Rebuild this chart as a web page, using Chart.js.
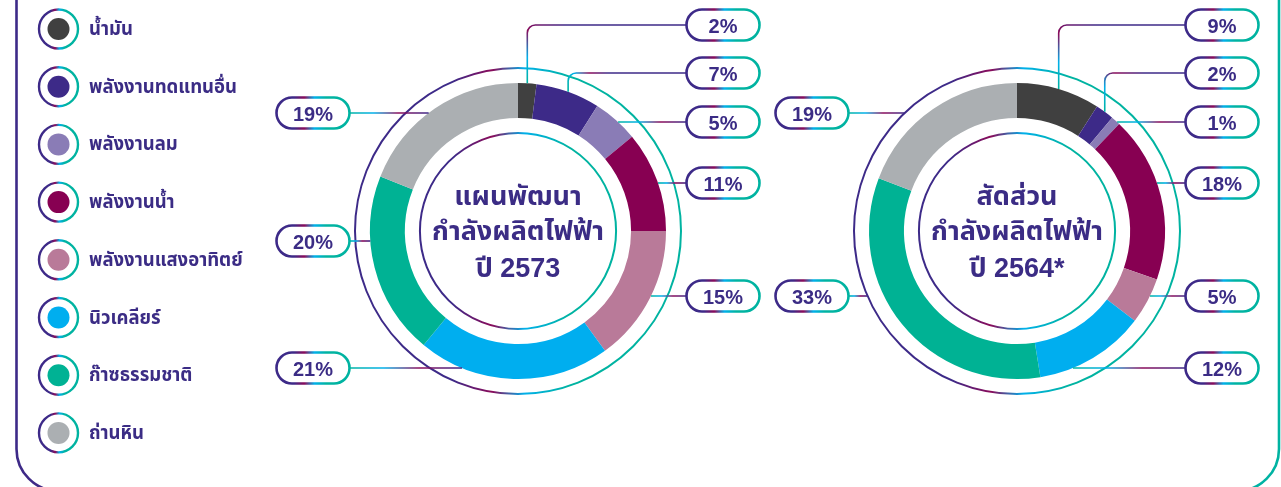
<!DOCTYPE html>
<html>
<head>
<meta charset="utf-8">
<script src="https://cdn.jsdelivr.net/npm/chart.js@4.4.1/dist/chart.umd.min.js"></script>
<style>
  html, body { margin: 0; padding: 0; background: #fff; overflow: hidden; }
  #wrap { position: relative; width: 1281px; height: 487px; }
  #wrap canvas { position: absolute; left: 0; top: 0; }
</style>
</head>
<body>
<div id="wrap">
  <canvas id="plan" width="1281" height="487"></canvas>
  <canvas id="share" width="1281" height="487"></canvas>
</div>
<script>
// Generation sources, in drawing order (clockwise from 12 o'clock)
const sources = ['น้ำมัน', 'พลังงานทดแทนอื่น', 'พลังงานลม', 'พลังงานน้ำ', 'พลังงานแสงอาทิตย์', 'นิวเคลียร์', 'ก๊าซธรรมชาติ', 'ถ่านหิน'];
const sourceColors = ['#404040', '#3d2a88', '#8a7cb6', '#870052', '#b97a99', '#00aeef', '#00b294', '#abafb2'];

// Capacity shares, percent
const plan2573 = [2, 7, 5, 11, 15, 21, 20, 19];
const share2564 = [9, 2, 1, 18, 5, 12, 33, 19];

// Centre captions
const planTitle = ['แผนพัฒนา', 'กำลังผลิตไฟฟ้า', 'ปี 2573'];
const shareTitle = ['สัดส่วน', 'กำลังผลิตไฟฟ้า', 'ปี 2564*'];

const FONT = '"Liberation Sans", "Noto Sans Thai", "Noto Sans Thai UI", "Noto Sans", sans-serif';
const INK = '#3b2c85';
const PURPLE = '#3d2a88', MAGENTA = '#8a0b5a', BLUE = '#00b0ea', TEAL = '#00b3a1';
const RING_STOPS = [[0, PURPLE], [0.3, PURPLE], [0.42, MAGENTA], [0.52, BLUE], [0.66, TEAL], [1, TEAL]];
const PILL_STOPS = [[0, PURPLE], [0.24, PURPLE], [0.38, MAGENTA], [0.52, BLUE], [0.68, TEAL], [1, TEAL]];
const LEADER_STOPS = [[0, TEAL], [0.3, BLUE], [0.62, MAGENTA], [1, PURPLE]];

function gradient(ctx, x0, y0, x1, y1, stops) {
  const g = ctx.createLinearGradient(x0, y0, x1, y1);
  stops.forEach(([o, c]) => g.addColorStop(o, c));
  return g;
}

// Outline rings, leader lines, value pills and the centre caption
const calloutPlugin = {
  id: 'callouts',
  afterDatasetsDraw(chart, args, opts) {
    const ctx = chart.ctx;
    const arcs = chart.getDatasetMeta(0).data;
    const { x: cx, y: cy, outerRadius: R, innerRadius: r } = arcs[0];
    const values = chart.data.datasets[0].data;
    ctx.save();

    // thin rings around and inside the donut
    ctx.lineWidth = 2;
    ctx.strokeStyle = gradient(ctx, cx - R - 15, 0, cx + R + 15, 0, RING_STOPS);
    [R + 15, r - 15].forEach(rad => {
      ctx.beginPath();
      ctx.arc(cx, cy, rad, 0, Math.PI * 2);
      ctx.stroke();
    });

    opts.items.forEach(it => {
      const arc = arcs[it.index];
      const py = it.y;
      const right = it.side === 'right';
      const pillX = right ? cx + opts.gap : cx - opts.gap - opts.pillW;
      const pillEdge = right ? pillX : pillX + opts.pillW;

      ctx.lineWidth = 1.6;
      ctx.beginPath();
      if (it.elbow) {
        const mid = (arc.startAngle + arc.endAngle) / 2;
        const ax = cx + R * Math.cos(mid), ay = cy + R * Math.sin(mid);
        const k = 8;
        ctx.strokeStyle = gradient(ctx, ax, ay, ax + 40, py, LEADER_STOPS);
        ctx.moveTo(ax, ay);
        ctx.lineTo(ax, py + k);
        ctx.arcTo(ax, py, ax + k, py, k);
        ctx.lineTo(pillEdge, py);
      } else {
        const reach = it.toRing ? R + 15 : R;
        const dy = py - cy;
        const dx = Math.sqrt(Math.max(reach * reach - dy * dy, 0));
        const ex = right ? cx + dx : cx - dx;
        ctx.strokeStyle = gradient(ctx, Math.min(ex, pillEdge), 0, Math.max(ex, pillEdge), 0, LEADER_STOPS);
        ctx.moveTo(ex, py);
        ctx.lineTo(pillEdge, py);
      }
      ctx.stroke();

      // value pill
      const h = opts.pillH;
      ctx.beginPath();
      ctx.roundRect(pillX, py - h / 2, opts.pillW, h, h / 2);
      ctx.fillStyle = '#fff';
      ctx.fill();
      ctx.lineWidth = 2.6;
      ctx.strokeStyle = gradient(ctx, pillX, 0, pillX + opts.pillW, 0, PILL_STOPS);
      ctx.stroke();
      ctx.fillStyle = INK;
      ctx.font = 'bold 20px ' + FONT;
      ctx.textAlign = 'center';
      ctx.textBaseline = 'alphabetic';
      ctx.fillText(values[it.index] + '%', pillX + opts.pillW / 2, py + 7.5);
    });

    // centre caption
    ctx.fillStyle = INK;
    ctx.font = 'bold 27px ' + FONT;
    ctx.textAlign = 'center';
    ctx.textBaseline = 'alphabetic';
    const offs = [-26, 9, 46];
    opts.title.forEach((line, i) => ctx.fillText(line, cx, cy + offs[i]));
    ctx.restore();
  }
};

// Rounded frame and the colour key on the left
const keyPlugin = {
  id: 'sourceKey',
  beforeDraw(chart) {
    const ctx = chart.ctx;
    ctx.save();
    ctx.lineWidth = 2.6;
    ctx.strokeStyle = gradient(ctx, 16, 0, 1280, 0, [[0, PURPLE], [0.4, MAGENTA], [0.6, BLUE], [1, TEAL]]);
    ctx.beginPath();
    ctx.roundRect(16.5, -60, 1262.5, 551, 42);
    ctx.stroke();
    ctx.restore();
  },
  afterDraw(chart, args, opts) {
    const ctx = chart.ctx;
    const colors = chart.data.datasets[0].backgroundColor;
    ctx.save();
    chart.data.labels.forEach((label, i) => {
      const x = opts.x, y = opts.top + i * opts.step;
      ctx.lineWidth = 2.4;
      ctx.strokeStyle = gradient(ctx, x - 20, 0, x + 20, 0, RING_STOPS);
      ctx.beginPath();
      ctx.arc(x, y, 19.5, 0, Math.PI * 2);
      ctx.stroke();
      ctx.fillStyle = colors[i];
      ctx.beginPath();
      ctx.arc(x, y, 11, 0, Math.PI * 2);
      ctx.fill();
      ctx.fillStyle = INK;
      ctx.font = 'bold 18.5px ' + FONT;
      ctx.textAlign = 'left';
      ctx.textBaseline = 'alphabetic';
      ctx.fillText(label, opts.textX, y + 6);
    });
    ctx.restore();
  }
};

function donut(id, values, padding, extra, plugins) {
  return new Chart(document.getElementById(id), {
    type: 'doughnut',
    data: {
      labels: sources,
      datasets: [{ data: values, backgroundColor: sourceColors, borderWidth: 0, hoverOffset: 0 }]
    },
    options: {
      responsive: false,
      maintainAspectRatio: false,
      devicePixelRatio: 1,
      animation: false,
      events: [],
      cutout: '76.4%',
      layout: { padding },
      plugins: Object.assign({ legend: { display: false }, tooltip: { enabled: false } }, extra)
    },
    plugins
  });
}

donut('plan', plan2573, { left: 370, right: 615, top: 83, bottom: 108 }, {
  callouts: {
    title: planTitle, gap: 168.5, pillW: 73, pillH: 31,
    items: [
      { index: 0, side: 'right', y: 25, elbow: true },
      { index: 1, side: 'right', y: 73, elbow: true },
      { index: 2, side: 'right', y: 122 },
      { index: 3, side: 'right', y: 183 },
      { index: 4, side: 'right', y: 296 },
      { index: 5, side: 'left', y: 368 },
      { index: 6, side: 'left', y: 241 },
      { index: 7, side: 'left', y: 113 }
    ]
  },
  sourceKey: { x: 58.5, top: 29, step: 57.7, textX: 89 }
}, [keyPlugin, calloutPlugin]);

donut('share', share2564, { left: 869, right: 116, top: 83, bottom: 108 }, {
  callouts: {
    title: shareTitle, gap: 168.5, pillW: 73, pillH: 31,
    items: [
      { index: 0, side: 'right', y: 25, elbow: true },
      { index: 1, side: 'right', y: 73, elbow: true },
      { index: 2, side: 'right', y: 122 },
      { index: 3, side: 'right', y: 183 },
      { index: 4, side: 'right', y: 296 },
      { index: 5, side: 'right', y: 368 },
      { index: 6, side: 'left', y: 296, toRing: true },
      { index: 7, side: 'left', y: 113, toRing: true }
    ]
  }
}, [calloutPlugin]);
</script>
</body>
</html>
